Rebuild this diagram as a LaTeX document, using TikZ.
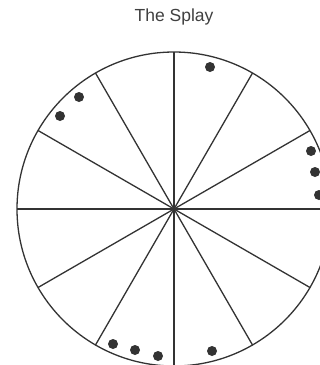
\documentclass[tikz,border=0pt]{standalone}
\usepackage{fontspec}
\setmainfont{Liberation Sans}
\usetikzlibrary{calc}
\begin{document}
\begin{tikzpicture}[x=1pt,y=-1pt,
  spoke/.style={draw=black!80,line width=1.3pt},
  dot/.style={circle,fill=black!80,inner sep=0pt,minimum size=10pt}]
\useasboundingbox (0,0) rectangle (320,365);
\clip (0,0) rectangle (320,365);
\fill[white] (0,0) rectangle (320,365);
\node[text=black!75,font=\fontsize{17.5}{19}\selectfont] (title) at (174,17) {The Splay};
\coordinate (c) at (174,209);
\draw[spoke] (c) circle[radius=157];
\foreach \a in {0,30,...,150}{
  \draw[spoke] ($(c)+(\a:157)$) -- ($(c)+(\a+180:157)$);
}
\foreach \p [count=\i] in {(210,67),(79,97),(60,116),(311,151),(315,172),(319,195),(113,344),(135,350),(158,356),(212,351)}{
  \node[dot] (d\i) at \p {};
}
\end{tikzpicture}
\end{document}
